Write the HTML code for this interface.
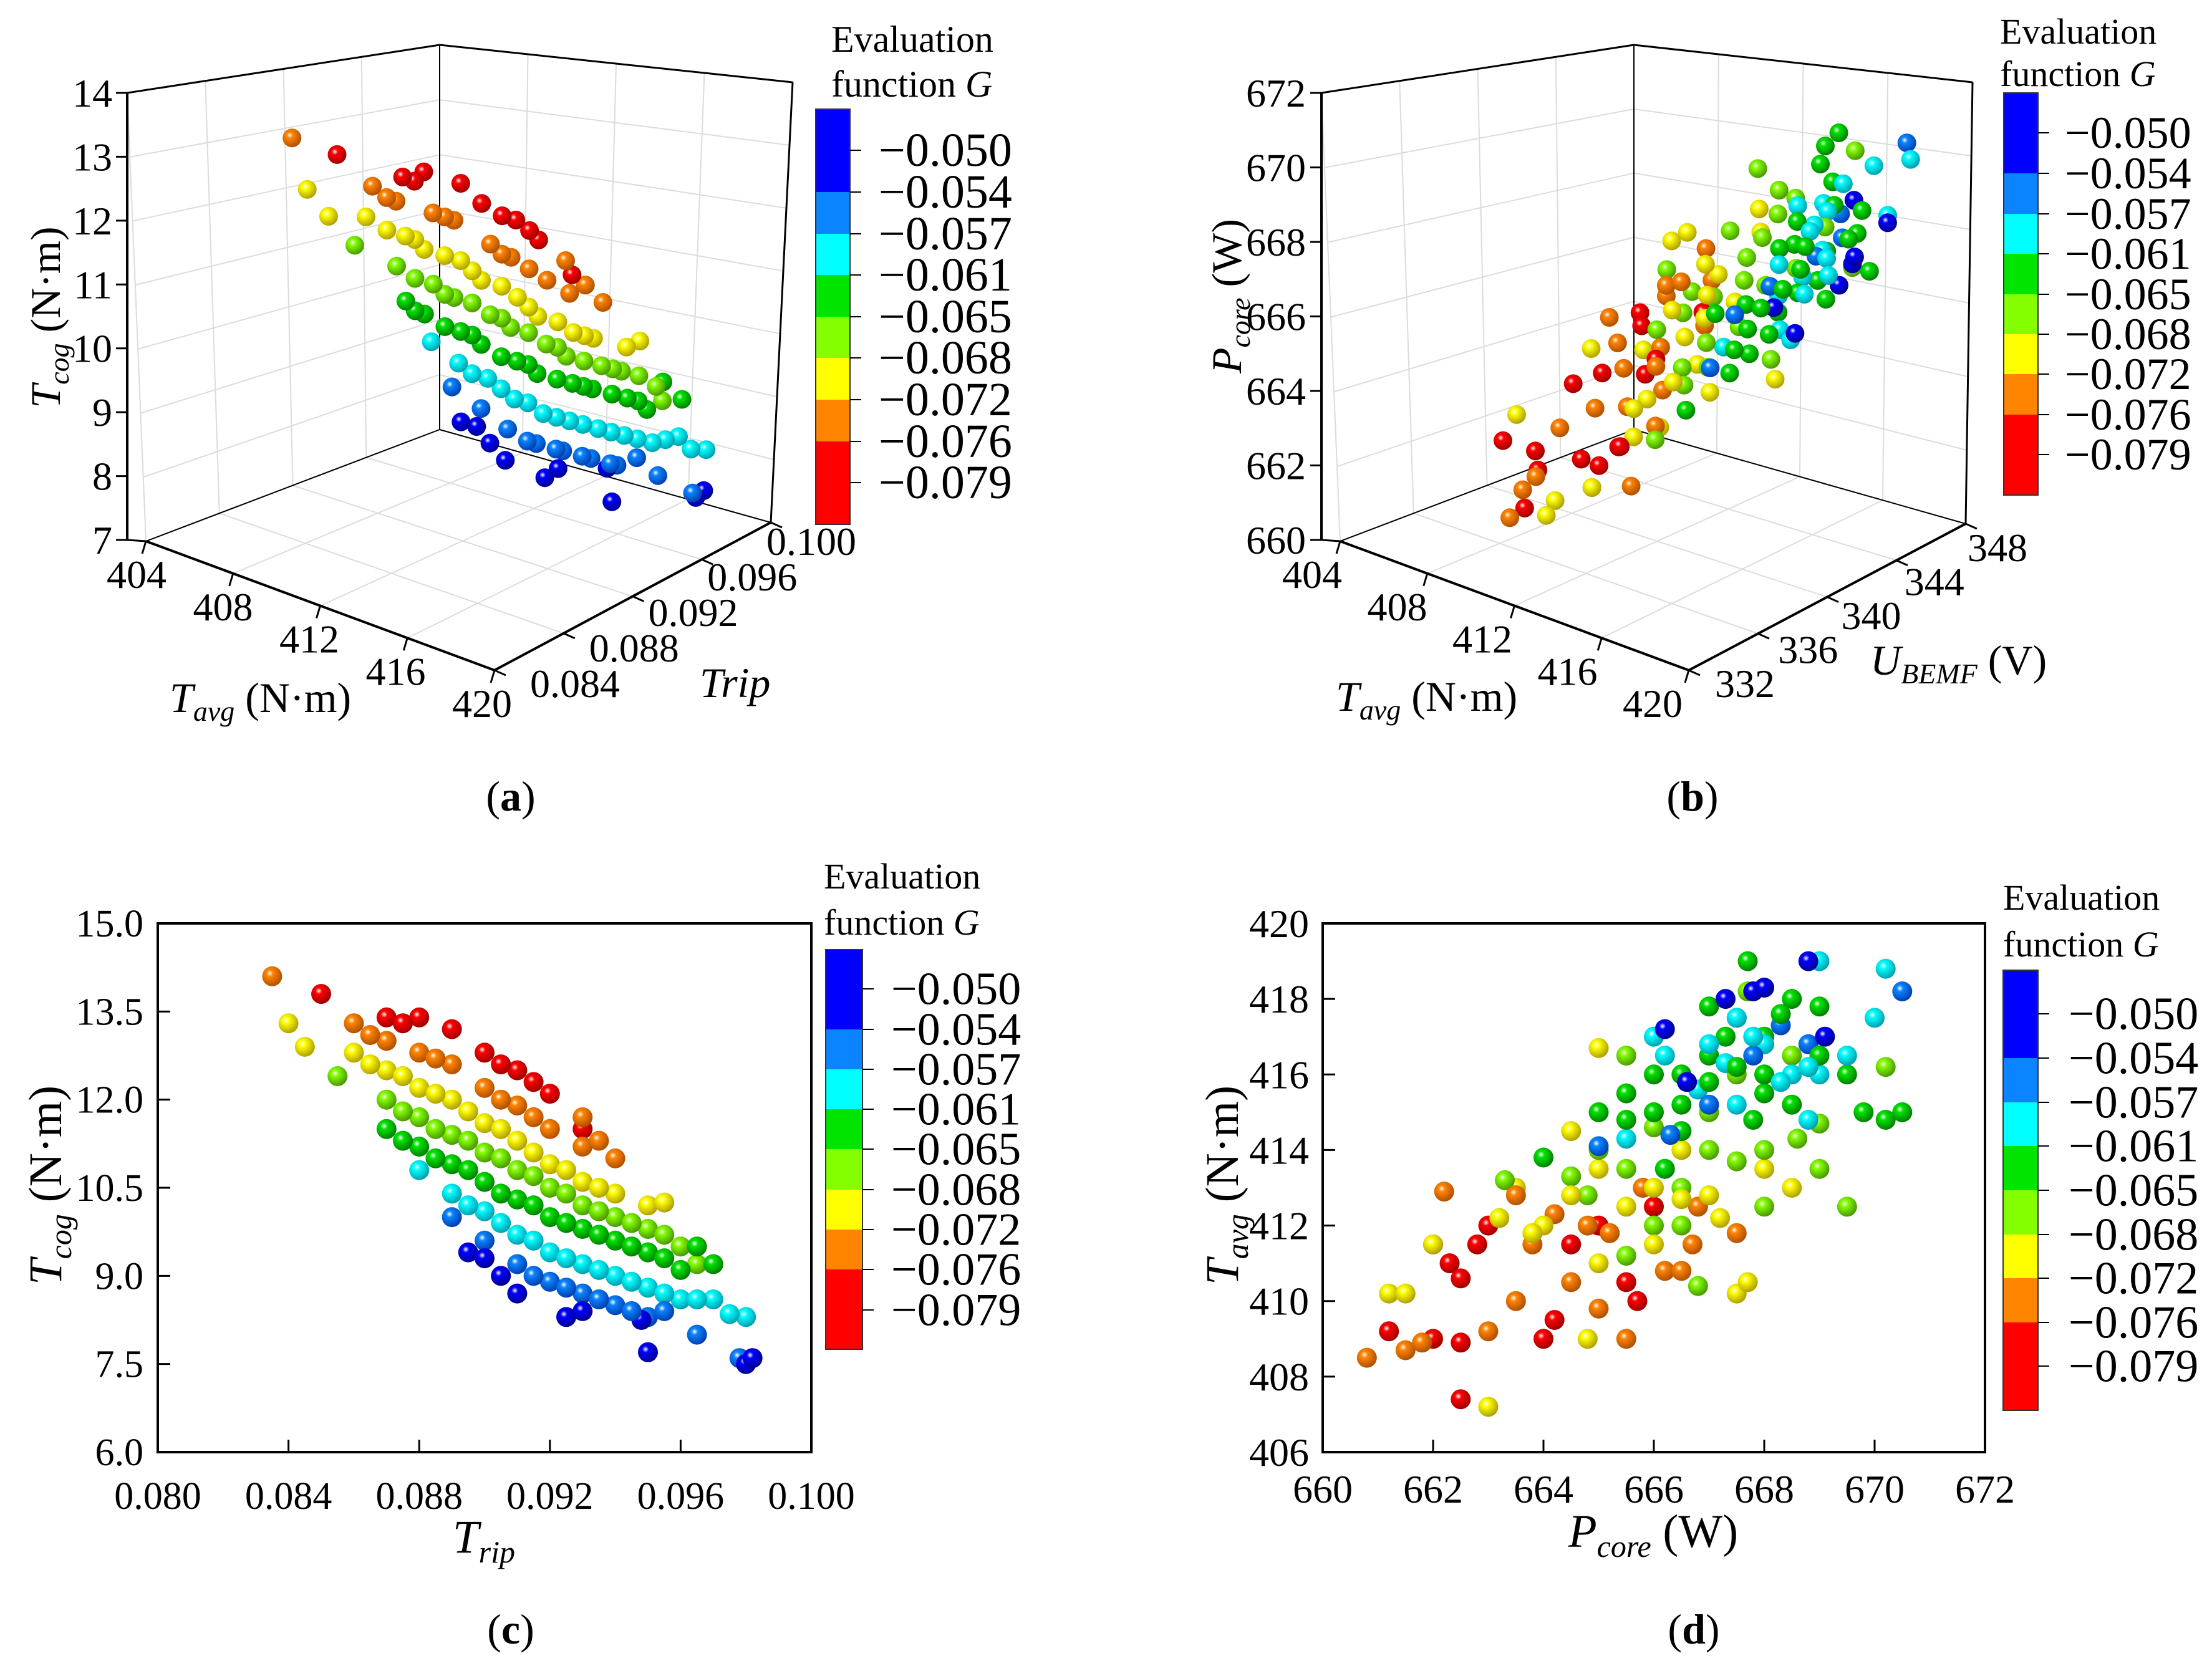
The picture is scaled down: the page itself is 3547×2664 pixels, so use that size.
<!DOCTYPE html>
<html><head><meta charset="utf-8"><style>
html,body{margin:0;padding:0;background:#fff;}
svg, svg text, svg tspan{font-family:'Liberation Serif','DejaVu Serif','Times New Roman',serif;}
</style></head><body>
<svg id="fig" xmlns="http://www.w3.org/2000/svg" width="3547" height="2659" viewBox="0 0 3547 2659">
<defs id="defs"></defs>
<rect x="0" y="0" width="3547" height="2659" fill="#fff"/>
<g id="pa"></g>
<g id="pb"></g>
<g id="pc"></g>
<g id="pd"></g>
<text x="819" y="1300" font-size="68" text-anchor="middle">(<tspan font-weight="bold">a</tspan>)</text>
<text x="2714" y="1300" font-size="68" text-anchor="middle">(<tspan font-weight="bold">b</tspan>)</text>
<text x="819" y="2636" font-size="68" text-anchor="middle">(<tspan font-weight="bold">c</tspan>)</text>
<text x="2716" y="2636" font-size="68" text-anchor="middle">(<tspan font-weight="bold">d</tspan>)</text>
</svg>
<script>
// ---------- data: designs for panels a & c (Trip, Tcog, G, Tavg) ----------
const cTrip=[.085,.087,.088,.089,.090,.091,.092,.093,
.0835,.086,.087,.088,.089,.090,.091,.092,.093,.094,.093,
.084,.0845,.086,.087,.088,.089,.090,.091,.092,.093,.094,.095,.0955,
.0855,.087,.088,.089,.090,.091,.092,.093,.094,.095,.096,.0965,
.087,.088,.089,.090,.091,.092,.093,.094,.095,.096,.097,.0965,
.088,.089,.090,.091,.092,.093,.094,.095,.096,.097,.098,.0975,
.089,.090,.091,.092,.093,.094,.095,.0965,.0978,
.0895,.090,.0905,.091,.0925,.093,.095,.098,.0982,.0948,
.0875,.0905,.0915,
.0865,.0885,.0905,.0915,.0935,
.0865,.0875,.0885,.0895,.0905,.0915,.0925,.0935,
.0875,.0885,.0895,.0905,.0915,.0925,.0935,.0945,.0955,
.0875,.0885,.0895,.0905,.0915,.0925,.0935,.0945,.0955,
.0895,.0905,.0915,.0925,.0935,.0945,.0955,.0965,
.0915,.0925,.0935,.0945,.0955];
const cTcog=[13.8,13.4,13.4,13.2,12.8,12.5,12.1,11.5,
14.1,13.3,13.0,12.8,12.6,12.2,11.9,11.5,11.2,11.0,11.7,
13.3,12.9,12.8,12.5,12.2,12.0,11.6,11.3,10.9,10.6,10.4,10.2,10.25,
12.4,12.0,11.7,11.4,11.1,10.8,10.5,10.2,10.0,9.8,9.5,9.2,
11.5,11.2,10.9,10.6,10.3,10.0,9.8,9.6,9.4,9.1,9.2,9.5,
10.8,10.4,10.1,9.7,9.4,9.2,9.0,8.8,8.6,8.6,8.3,8.35,
10.0,9.6,9.2,8.9,8.7,8.5,8.3,8.0,7.6,
9.4,9.3,9.0,8.7,8.3,8.4,7.7,7.5,7.6,8.25,
13.3,12.6,12.3,
13.1,12.7,12.0,11.7,11.3,
12.6,12.4,12.1,11.8,11.5,11.1,10.8,10.5,
11.8,11.5,11.3,11.0,10.7,10.4,10.1,9.9,9.7,
11.3,11.0,10.8,10.4,10.2,9.9,9.7,9.5,9.3,
10.2,9.9,9.6,9.3,9.1,8.9,8.7,8.6,
9.0,8.8,8.6,8.4,8.4];
const cG=[-0.079,-0.079,-0.079,-0.079,-0.079,-0.079,-0.079,-0.079,
-0.076,-0.076,-0.076,-0.076,-0.076,-0.076,-0.076,-0.076,-0.076,-0.076,-0.076,
-0.072,-0.072,-0.072,-0.072,-0.072,-0.072,-0.072,-0.072,-0.072,-0.072,-0.072,-0.072,-0.072,
-0.068,-0.068,-0.068,-0.068,-0.068,-0.068,-0.068,-0.068,-0.068,-0.068,-0.068,-0.068,
-0.065,-0.065,-0.065,-0.065,-0.065,-0.065,-0.065,-0.065,-0.065,-0.065,-0.065,-0.065,
-0.061,-0.061,-0.061,-0.061,-0.061,-0.061,-0.061,-0.061,-0.061,-0.061,-0.061,-0.061,
-0.057,-0.057,-0.057,-0.057,-0.057,-0.057,-0.057,-0.057,-0.057,
-0.052,-0.052,-0.052,-0.052,-0.052,-0.052,-0.052,-0.052,-0.052,-0.052,
-0.079,-0.079,-0.079,
-0.076,-0.076,-0.076,-0.076,-0.076,
-0.072,-0.072,-0.072,-0.072,-0.072,-0.072,-0.072,-0.072,
-0.068,-0.068,-0.068,-0.068,-0.068,-0.068,-0.068,-0.068,-0.068,
-0.065,-0.065,-0.065,-0.065,-0.065,-0.065,-0.065,-0.065,-0.065,
-0.061,-0.061,-0.061,-0.061,-0.061,-0.061,-0.061,-0.061,
-0.057,-0.057,-0.057,-0.057,-0.057];
const aTavg=[412.3,413.5,413.6,414.4,414.5,415.2,415.4,416.1,
411.6,413.0,413.2,414.0,414.1,414.9,415.0,415.8,416.0,416.7,415.8,
411.8,412.3,412.7,413.6,413.6,414.4,414.5,415.3,415.4,416.2,416.3,417.0,417.2,
412.6,413.2,414.0,414.1,414.9,415.0,415.8,415.9,416.7,416.8,417.6,417.5,
413.6,413.6,414.4,414.5,415.3,415.4,416.2,416.3,417.1,417.2,418.0,417.5,
413.9,414.3,414.8,415.2,415.7,416.1,416.6,417.0,417.5,417.9,418.4,418.1,
414.0,414.5,414.9,415.4,415.8,416.3,416.7,417.4,418.0,
414.0,414.3,414.5,414.8,415.4,415.6,416.5,418.0,418.2,416.4,
413.6,415.0,415.4,
413.2,414.1,415.0,415.4,416.3,
413.2,413.6,414.1,414.5,415.0,415.4,415.9,416.3,
413.6,414.1,414.5,415.0,415.4,415.9,416.3,416.8,417.2,
413.6,414.1,414.5,415.0,415.4,415.9,416.3,416.8,417.2,
414.5,415.0,415.4,415.9,416.3,416.8,417.2,417.7,
415.4,415.9,416.3,416.8,417.2];
// ---------- data: designs for panels b & d (Pcore, Tavg, G, UBEMF) ----------
const dPcore=[662,662.3,661.2,662,662.5,662.8,663,662.5,664.2,664,665.5,665.7,665,666,664.5,662.5,
660.8,661.5,661.8,662.2,663,663.5,663.8,664.2,665,665.5,666.2,666.5,667.5,664.5,665.8,666.8,
661.2,661.5,662,663,663.2,663.5,664,664.8,665,666,667,667.5,667.7,668,668.5,666.5,664.5,665,
663.3,664.5,665,665.5,666,666.5,667,667.5,668,668.5,669,669,669.5,670.2,666.8,665.5,667.7,
664,665,665.5,666,666.5,667,667.3,667.7,668,668.5,669,669.5,669.8,670.2,670.5,668,666.5,667,666.2,
665.5,666.2,666.8,667.3,668,668.5,669,669.5,670,670.2,669,666,667.5,668.8,
665,666.3,667,667.5,668.3,668.8,670.5,667.8,
666.6,667.3,667.8,668,668.8,666.2,669.1,
666.5,667,667.5,668,668.5,669,667.8,666,665.5,668.3,
665.5,666.5,667,668,667.5,666,664.8,668.6,
664.5,665.5,666,666.5,667.2,663.8,665,
667,667.8,668.3,668.8,667.5,
664.8,665.2,666.7,663.5];
const dTavg=[411.5,411,409.2,409,410.6,411.5,412,407.4,409.5,409,410.5,410,412,412.5,411.5,408.9,
408.5,408.7,408.9,412.9,409.2,410,411.5,412.3,409.8,409,410.8,410.8,411.8,410.5,413,412.5,
410.2,410.2,411.5,407.2,412.2,413,412,409,413.5,413,412.8,410.2,410.5,413.5,413,414,414.5,416.7,
413.2,413.3,414,411.2,414.6,412,415,416,414,416.5,414.7,413.5,412.5,416.2,410.4,416.5,418.2,
413.8,415,415.5,415,416,416.5,417,419,417,418,417.8,416,415,414.8,415,415.5,414.5,417.8,413.5,
414.3,416.5,415.6,416.3,416.8,416,416,416.5,417.5,418.8,419,417,415.2,414.8,
414.1,414.4,415.2,417.5,417.3,416.8,418.2,416.5,
415.8,418,418.2,418.3,419,417.2,417,
415.2,415.8,416.2,416,415.2,416.5,414.8,416,414.8,417.6,
413.5,413,414,412.5,413.7,412,412.8,414.3,
412.8,412.5,411.5,412.7,412.2,411.8,411,
416.8,417,415.8,416.2,417.5,
412,411.8,411.5,412.8];
const dG=[-0.079,-0.079,-0.079,-0.079,-0.079,-0.079,-0.079,-0.079,-0.079,-0.079,-0.079,-0.079,-0.079,-0.079,-0.079,-0.079,
-0.076,-0.076,-0.076,-0.076,-0.076,-0.076,-0.076,-0.076,-0.076,-0.076,-0.076,-0.076,-0.076,-0.076,-0.076,-0.076,
-0.072,-0.072,-0.072,-0.072,-0.072,-0.072,-0.072,-0.072,-0.072,-0.072,-0.072,-0.072,-0.072,-0.072,-0.072,-0.072,-0.072,-0.072,
-0.068,-0.068,-0.068,-0.068,-0.068,-0.068,-0.068,-0.068,-0.068,-0.068,-0.068,-0.068,-0.068,-0.068,-0.068,-0.068,-0.068,
-0.065,-0.065,-0.065,-0.065,-0.065,-0.065,-0.065,-0.065,-0.065,-0.065,-0.065,-0.065,-0.065,-0.065,-0.065,-0.065,-0.065,-0.065,-0.065,
-0.061,-0.061,-0.061,-0.061,-0.061,-0.061,-0.061,-0.061,-0.061,-0.061,-0.061,-0.061,-0.061,-0.061,
-0.057,-0.057,-0.057,-0.057,-0.057,-0.057,-0.057,-0.057,
-0.052,-0.052,-0.052,-0.052,-0.052,-0.052,-0.052,
-0.065,-0.065,-0.065,-0.065,-0.065,-0.065,-0.065,-0.065,-0.065,-0.065,
-0.068,-0.068,-0.068,-0.068,-0.068,-0.068,-0.068,-0.068,
-0.072,-0.072,-0.072,-0.072,-0.072,-0.072,-0.072,
-0.061,-0.061,-0.061,-0.061,-0.061,
-0.076,-0.076,-0.076,-0.076];
const bU=[337,338,336,337,337.5,338.5,338,337,340,339,341,341.5,340,342,340,337,
336,336.5,337,337.5,338,339,339,340,340.5,341,342,342,343,340,341.5,342.5,
336,336.5,337,338,338.5,339,339.5,340,340.5,341.5,342.5,343,343.5,344,344.5,342,340,341,
338.5,340,340.5,341,341.5,342,342.5,343,343.5,344,344.5,345,345,346,342.5,341,343.5,
339.5,340.5,341,341.5,342,342.5,343,343.5,343.5,344,344.5,345,345.5,346,346.5,343.5,342,342.5,341.5,
341,341.5,342.5,343,343.5,344,344.5,345,345.5,346,344.5,341.5,343,344.5,
340.5,341.5,342.5,343,344,344.5,346.5,343.5,
342,343,343.5,343.5,344.5,341.5,345,
342,342.5,343,343.5,344,344.5,343.5,341.5,341,344,
341,342,342.5,343.5,343,341.5,340.5,344,
340,341,341.5,342,342.5,339,340.5,
342.5,343.5,344,344.5,343,
340,340.5,342,339];
// ---------- ticks ----------
const cbLabels=["\u22120.050","\u22120.054","\u22120.057","\u22120.061","\u22120.065","\u22120.068","\u22120.072","\u22120.076","\u22120.079"];
const tavgTicks=[404,408,412,416,420];
const tripTicks3d=[0.084,0.088,0.092,0.096,0.100];
const tcogTicks3d=[7,8,9,10,11,12,13,14];
const uTicks=[332,336,340,344,348];
const pTicks3d=[660,662,664,666,668,670,672];
const cXTicks=[0.080,0.084,0.088,0.092,0.096,0.100];
const cYTicks=[6.0,7.5,9.0,10.5,12.0,13.5,15.0];
const dXTicks=[660,662,664,666,668,670,672];
const dYTicks=[406,408,410,412,414,416,418,420];

const NS="http://www.w3.org/2000/svg";
const COLORS=['#ff0000','#ff8400','#ffff00','#84ff00','#00e400','#00ffff','#0a84ff','#0000ff'];
const DARK=['#a00000','#b05000','#b0a000','#4a9a00','#008000','#00a0b0','#0040b0','#000090'];
function gIdx(g){ if(g<-0.0775)return 0; if(g<-0.074)return 1; if(g<-0.070)return 2; if(g<-0.0665)return 3; if(g<-0.063)return 4; if(g<-0.059)return 5; if(g<-0.0555)return 6; return 7; }
function mk(tag,parent){const e=document.createElementNS(NS,tag);parent.appendChild(e);return e;}
function set(e,o){for(const k in o)e.setAttribute(k,o[k]);return e;}
const defs=document.getElementById('defs');
COLORS.forEach((c,i)=>{const g=mk('radialGradient',defs);set(g,{id:'sg'+i,cx:'0.38',cy:'0.35',r:'0.65'});
 set(mk('stop',g),{offset:'0','stop-color':'#ffffff'});
 set(mk('stop',g),{offset:'0.25','stop-color':c});
 set(mk('stop',g),{offset:'1','stop-color':DARK[i]});});

function line(p,x1,y1,x2,y2,stroke,w,name){const l=mk('line',p);set(l,{x1,y1,x2,y2,stroke,'stroke-width':w});
 
 return l;}
function text(p,x,y,s,fs,anchor,name){const t=mk('text',p);set(t,{x,y,'font-size':fs,'text-anchor':anchor||'start'});t.textContent=s;
 
 return t;}
function dot(p,x,y,g,r){const c=mk('circle',p);set(c,{cx:x.toFixed(1),cy:y.toFixed(1),r:r,fill:'url(#sg'+gIdx(g)+')'});
 
 return c;}

function colorbar(p,x,w,top,bottom,ticks,lx,fs,evx,evy1,evy2,evfs){
 const edges=[top,ticks[1],ticks[2],ticks[3],ticks[4],ticks[5],ticks[6],ticks[7],bottom];
 for(let i=0;i<8;i++){const r=mk('rect',p);set(r,{x:x,y:edges[i],width:w,height:edges[i+1]-edges[i],fill:COLORS[7-i]});
  
  }
 const b=mk('rect',p);set(b,{x,y:top,width:w,height:bottom-top,fill:'none',stroke:'#333','stroke-width':2});
 
 
 ticks.forEach((ty,i)=>{line(p,x+w,ty,x+w+18,ty,'#000',2,'colorbar-tick');
  text(p,lx,ty+fs*0.33,cbLabels[i],fs,'start','colorbar-tick-label');});
 text(p,evx,evy1,'Evaluation',evfs,'start','colorbar-title');
 const t=text(p,evx,evy2,'function ',evfs,'start','colorbar-title');
 const ts=mk('tspan',t);ts.setAttribute('font-style','italic');ts.textContent='G';
}

function tri(C,u,v,w){
 const bl=(P,Q,R,S)=>[P[0]*(1-u)*(1-v)+Q[0]*u*(1-v)+R[0]*u*v+S[0]*(1-u)*v, P[1]*(1-u)*(1-v)+Q[1]*u*(1-v)+R[1]*u*v+S[1]*(1-u)*v];
 const b=bl(C.A,C.B,C.C,C.D), t=bl(C.A2,C.B2,C.C2,C.D2);
 return [b[0]+(t[0]-b[0])*w, b[1]+(t[1]-b[1])*w];}
function panel3d(p,C,R,ticksU,ticksV,ticksW){
 const nu=x=>(x-R.u0)/(R.u1-R.u0), nv=x=>(x-R.v0)/(R.v1-R.v0), nw=x=>(x-R.w0)/(R.w1-R.w0);
 const gl=(a,b,n)=>{const l=mk('line',p);set(l,{x1:a[0],y1:a[1],x2:b[0],y2:b[1],stroke:'#dcdcdc','stroke-width':2});
  
  };
 ticksW.forEach(z=>{const w=nw(z);gl(tri(C,0,0,w),tri(C,0,1,w),'grid-left-wall');gl(tri(C,0,1,w),tri(C,1,1,w),'grid-back-wall');});
 ticksV.forEach(y=>{const v=nv(y);gl(tri(C,0,v,0),tri(C,0,v,1),'grid-left-wall');gl(tri(C,0,v,0),tri(C,1,v,0),'grid-floor');});
 ticksU.forEach(x=>{const u=nu(x);gl(tri(C,u,1,0),tri(C,u,1,1),'grid-back-wall');gl(tri(C,u,0,0),tri(C,u,1,0),'grid-floor');});
 const E=(a,b,w)=>{const l=mk('line',p);set(l,{x1:a[0],y1:a[1],x2:b[0],y2:b[1],stroke:'#000','stroke-width':w});
  
  };
 E(C.A,C.D,2);E(C.D,C.C,2);E(C.D,C.D2,2);E(C.C,C.C2,3);E(C.A2,C.D2,3);E(C.D2,C.C2,3);
 E(C.A,C.B,4);E(C.B,C.C,4);E(C.Z0,C.Z1,4);E(C.Z0,C.A,3);
 return {nu,nv,nw};
}

// ================= PANEL A =================
(function(){
 const p=document.getElementById('pa');
 const C={A:[234,868],B:[793,1075],C:[1236,838],D:[705,689],A2:[204,149],B2:[793,315],C2:[1271,132],D2:[705,72],Z0:[204,866],Z1:[204,149]};
 const R={u0:404,u1:420,v0:0.084,v1:0.100,w0:7,w1:14};
 const f=panel3d(p,C,R,tavgTicks,tripTicks3d,tcogTicks3d);
 tcogTicks3d.forEach(z=>{const y=866-(z-7)/7*717;line(p,204,y,186,y,'#000',3,'z-tick');text(p,180,y+22,String(z),64,'end','z-tick-label');});
 tavgTicks.forEach(v=>{const t=(v-404)/16;const q=tri(C,t,0,0);line(p,q[0],q[1],q[0]-6,q[1]+20,'#000',3,'x-tick');
  text(p,219+t*(773-219),921+t*(1128-921)+22,String(v),64,'middle','x-tick-label');});
 tripTicks3d.forEach(v=>{const t=(v-0.084)/0.016;const q=tri(C,1,t,0);line(p,q[0],q[1],q[0]+18,q[1]+8,'#000',3,'y-tick');
  text(p,850+t*(1229-850),1118+t*(890-1118),v.toFixed(3),64,'start','y-tick-label');});
 let t=text(p,272,1142,'',68,'start','x-axis-title');
 t.innerHTML='<tspan font-style="italic">T</tspan><tspan font-style="italic" font-size="46" dy="14">avg</tspan><tspan dy="-14"> (N·m)</tspan>';
 t=text(p,1122,1118,'',68,'start','y-axis-title');
 t.innerHTML='<tspan font-style="italic">Trip</tspan>';
 t=text(p,0,0,'',68,'middle','z-axis-title');t.setAttribute('transform','translate(96,509) rotate(-90)');
 t.innerHTML='<tspan font-style="italic">T</tspan><tspan font-style="italic" font-size="46" dy="14">cog</tspan><tspan dy="-14"> (N·m)</tspan>';
 const g=mk('g',p);
 const idx=cTrip.map((_,i)=>i).sort((i,j)=>cTrip[j]-cTrip[i]);
 idx.forEach(i=>{const q=tri(C,f.nu(aTavg[i]),f.nv(cTrip[i]),f.nw(cTcog[i]));dot(g,q[0],q[1],cG[i],15);});
 colorbar(p,1308,55,175,841,[241,308,375,441,508,574,641,708,774],1409,76,1333,83,155,60);
})();

// ================= PANEL B =================
(function(){
 const p=document.getElementById('pb');
 const C={A:[2149,868],B:[2708,1075],C:[3152,840],D:[2620,689],A2:[2119,149],B2:[2708,315],C2:[3163,132],D2:[2620,72],Z0:[2119,866],Z1:[2119,149]};
 const R={u0:404,u1:420,v0:332,v1:348,w0:660,w1:672};
 const f=panel3d(p,C,R,tavgTicks,uTicks,pTicks3d);
 pTicks3d.forEach(z=>{const y=866-(z-660)/12*717;line(p,2119,y,2101,y,'#000',3,'z-tick');text(p,2094,y+22,String(z),64,'end','z-tick-label');});
 tavgTicks.forEach(v=>{const t=(v-404)/16;const q=tri(C,t,0,0);line(p,q[0],q[1],q[0]-6,q[1]+20,'#000',3,'x-tick');
  text(p,2104+t*(2650-2104),921+t*(1128-921)+22,String(v),64,'middle','x-tick-label');});
 uTicks.forEach(v=>{const t=(v-332)/16;const q=tri(C,1,t,0);line(p,q[0],q[1],q[0]+18,q[1]+8,'#000',3,'y-tick');
  text(p,2750+t*(3155-2750),1118+t*(900-1118),String(v),64,'start','y-tick-label');});
 let t=text(p,2142,1140,'',68,'start','x-axis-title');
 t.innerHTML='<tspan font-style="italic">T</tspan><tspan font-style="italic" font-size="46" dy="14">avg</tspan><tspan dy="-14"> (N·m)</tspan>';
 t=text(p,2999,1082,'',68,'start','y-axis-title');
 t.innerHTML='<tspan font-style="italic">U</tspan><tspan font-style="italic" font-size="46" dy="14">BEMF</tspan><tspan dy="-14"> (V)</tspan>';
 t=text(p,0,0,'',68,'middle','z-axis-title');t.setAttribute('transform','translate(1990,475) rotate(-90)');
 t.innerHTML='<tspan font-style="italic">P</tspan><tspan font-style="italic" font-size="46" dy="14">core</tspan><tspan dy="-14"> (W)</tspan>';
 const g=mk('g',p);
 const idx=dPcore.map((_,i)=>i).sort((i,j)=>bU[j]-bU[i]);
 idx.forEach(i=>{const q=tri(C,f.nu(dTavg[i]),f.nv(bU[i]),f.nw(dPcore[i]));dot(g,q[0],q[1],dG[i],15);});
 colorbar(p,3213,55,149,794,[213,278,343,407,472,536,600,665,729],3311,72,3207,70,138,58);
})();

// ================= PANEL C =================
(function(){
 const p=document.getElementById('pc');
 const X=v=>253+(v-0.080)/0.020*1048, Y=v=>2329-(v-6)/9*848;
 const fr=mk('rect',p);set(fr,{x:253,y:1481,width:1048,height:848,fill:'none',stroke:'#000','stroke-width':4});
 
 
 cXTicks.forEach(v=>{line(p,X(v),2329,X(v),2309,'#000',3,'x-tick');text(p,X(v),2420,v.toFixed(3),62,'middle','x-tick-label');});
 cYTicks.forEach(v=>{line(p,253,Y(v),273,Y(v),'#000',3,'y-tick');text(p,230,Y(v)+21,v.toFixed(1),62,'end','y-tick-label');});
 let t=text(p,776,2490,'',75,'middle','x-axis-title');
 t.innerHTML='<tspan font-style="italic">T</tspan><tspan font-style="italic" font-size="50" dy="16">rip</tspan>';
 t=text(p,0,0,'',75,'middle','y-axis-title');t.setAttribute('transform','translate(98,1901) rotate(-90)');
 t.innerHTML='<tspan font-style="italic">T</tspan><tspan font-style="italic" font-size="50" dy="16">cog</tspan><tspan dy="-16"> (N·m)</tspan>';
 const g=mk('g',p);
 cTrip.forEach((v,i)=>dot(g,X(v),Y(cTcog[i]),cG[i],16));
 colorbar(p,1324,59,1523,2164,[1586,1651,1715,1779,1843,1908,1972,2036,2101],1429,74,1321,1425,1499,58);
})();

// ================= PANEL D =================
(function(){
 const p=document.getElementById('pd');
 const X=v=>2121+(v-660)/12*1062, Y=v=>2329-(v-406)/14*848;
 const fr=mk('rect',p);set(fr,{x:2121,y:1481,width:1062,height:848,fill:'none',stroke:'#000','stroke-width':4});
 
 
 dXTicks.forEach(v=>{line(p,X(v),2329,X(v),2309,'#000',3,'x-tick');text(p,X(v),2410,String(v),64,'middle','x-tick-label');});
 dYTicks.forEach(v=>{line(p,2121,Y(v),2141,Y(v),'#000',3,'y-tick');text(p,2099,Y(v)+22,String(v),64,'end','y-tick-label');});
 let t=text(p,2651,2481,'',75,'middle','x-axis-title');
 t.innerHTML='<tspan font-style="italic">P</tspan><tspan font-style="italic" font-size="50" dy="16">core</tspan><tspan dy="-16"> (W)</tspan>';
 t=text(p,0,0,'',75,'middle','y-axis-title');t.setAttribute('transform','translate(1985,1901) rotate(-90)');
 t.innerHTML='<tspan font-style="italic">T</tspan><tspan font-style="italic" font-size="50" dy="16">avg</tspan><tspan dy="-16"> (N·m)</tspan>';
 const g=mk('g',p);
 dPcore.forEach((v,i)=>dot(g,X(v),Y(dTavg[i]),dG[i],16));
 colorbar(p,3212,56,1556,2262,[1626,1697,1768,1838,1909,1980,2050,2121,2191],3317,74,3212,1459,1534,58);
})();
</script>
</body></html>
